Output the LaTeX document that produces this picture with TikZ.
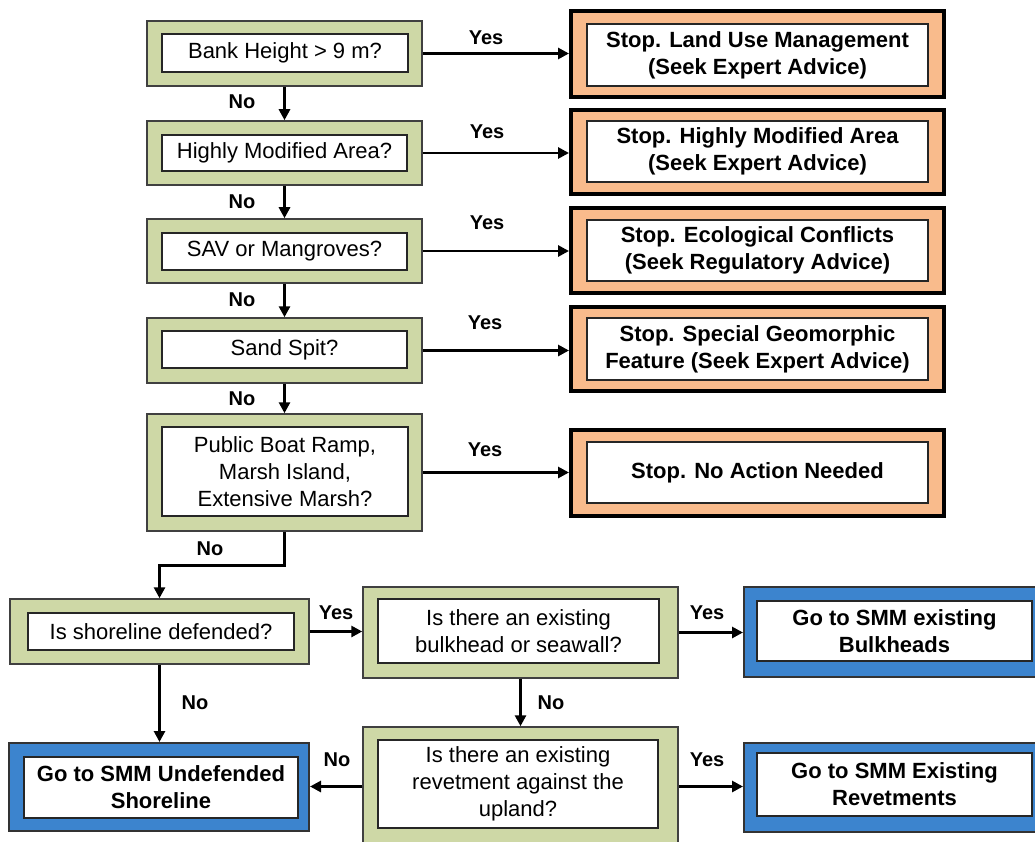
\documentclass[tikz,border=0pt]{standalone}
\usepackage{fontspec}
\setmainfont{Liberation Sans}
\usetikzlibrary{arrows.meta}
\definecolor{gfill}{RGB}{206,216,166}
\definecolor{ofill}{RGB}{249,187,140}
\definecolor{bfill}{RGB}{60,132,206}
\begin{document}
\begin{tikzpicture}[x=1pt,y=-1pt,
  gout/.style={draw=black!75, line width=1.5pt, fill=gfill, inner sep=0pt},
  oout/.style={draw=black, line width=4pt, fill=ofill, inner sep=0pt},
  bout/.style={draw=black!80, line width=2pt, fill=bfill, inner sep=0pt},
  gin/.style={draw=black!85, line width=1.8pt, fill=white, inner sep=0pt, align=center,
    font=\fontsize{22}{27}\selectfont},
  bin/.style={draw=black!85, line width=1.8pt, fill=white, inner sep=0pt, align=center,
    font=\bfseries\fontsize{22}{27}\selectfont},
  arr/.style={line width=2.8pt, -{Triangle[length=11pt,width=11pt]}},
  lab/.style={font=\bfseries\fontsize{20}{24}\selectfont, inner sep=0pt}
]
\useasboundingbox (0,0) rectangle (1035,842);
\clip (0,0) rectangle (1035,842);

% green question boxes
\node[gout, minimum width=275pt, minimum height=65pt] (g1o) at (284.5,53.5) {};
\node[gin, minimum width=246pt, minimum height=38pt] (g1) at (285,53) {Bank Height > 9 m?};
\node[gout, minimum width=275pt, minimum height=64pt] (g2o) at (284.5,153) {};
\node[gin, minimum width=245pt, minimum height=36pt] (g2) at (284.5,153) {Highly Modified Area?};
\node[gout, minimum width=275pt, minimum height=64pt] (g3o) at (284.5,251) {};
\node[gin, minimum width=245pt, minimum height=37pt] (g3) at (284.5,251.5) {SAV or Mangroves?};
\node[gout, minimum width=275pt, minimum height=65pt] (g4o) at (284.5,350.5) {};
\node[gin, minimum width=245pt, minimum height=37pt] (g4) at (284.5,349.5) {Sand Spit?};
\node[gout, minimum width=275pt, minimum height=117pt] (g5o) at (284.5,472.5) {};
\node[gin, minimum width=246pt, minimum height=89pt] (g5) at (285,471.5) {Public Boat Ramp,\\Marsh Island,\\Extensive Marsh?};

% orange stop boxes
\node[oout, minimum width=373pt, minimum height=86pt] (o1o) at (757.5,54) {};
\node[bin, minimum width=341pt, minimum height=62pt] (o1) at (757.5,55) {Stop. Land Use Management\\(Seek Expert Advice)};
\node[oout, minimum width=373pt, minimum height=84pt] (o2o) at (757.5,152) {};
\node[bin, minimum width=341pt, minimum height=61pt] (o2) at (757.5,151.5) {Stop. Highly Modified Area\\(Seek Expert Advice)};
\node[oout, minimum width=373pt, minimum height=85pt] (o3o) at (757.5,250.5) {};
\node[bin, minimum width=341pt, minimum height=61pt] (o3) at (757.5,250.5) {Stop. Ecological Conflicts\\(Seek Regulatory Advice)};
\node[oout, minimum width=373pt, minimum height=84pt] (o4o) at (757.5,349) {};
\node[bin, minimum width=341pt, minimum height=62pt] (o4) at (757.5,349) {Stop. Special Geomorphic\\Feature (Seek Expert Advice)};
\node[oout, minimum width=373pt, minimum height=86pt] (o5o) at (757.5,473) {};
\node[bin, minimum width=341pt, minimum height=61pt] (o5) at (757.5,472.5) {Stop. No Action Needed};

% lower part
\node[gout, minimum width=299pt, minimum height=65pt] (So) at (159.5,631.5) {};
\node[gin, minimum width=266pt, minimum height=37pt] (S) at (161,631.5) {Is shoreline defended?};
\node[gout, minimum width=315pt, minimum height=91pt] (Bo) at (520.5,632.5) {};
\node[gin, minimum width=281pt, minimum height=64pt] (B) at (518.5,631) {Is there an existing\\bulkhead or seawall?};
\node[bout, minimum width=301pt, minimum height=90pt] (BBo) at (894.5,632) {};
\node[bin, minimum width=275pt, minimum height=60pt] (BB) at (894.5,631) {Go to SMM existing\\Bulkheads};
\node[gout, minimum width=315pt, minimum height=119pt] (Ro) at (520.5,786.5) {};
\node[gin, minimum width=280pt, minimum height=88pt] (R) at (518,784) {Is there an existing\\revetment against the\\upland?};
\node[bout, minimum width=301pt, minimum height=89pt] (BRo) at (894.5,787.5) {};
\node[bin, minimum width=275pt, minimum height=63pt] (BR) at (894.5,784.5) {Go to SMM Existing\\Revetments};
\node[bout, minimum width=300pt, minimum height=88pt] (Uo) at (159,787) {};
\node[bin, minimum width=274pt, minimum height=61pt] (U) at (161,787.5) {Go to SMM Undefended\\Shoreline};

% Yes connectors
\draw[arr] (g1o.east) -- (g1o.east -| o1o.west);
\draw[arr] (g2o.east) -- (g2o.east -| o2o.west);
\draw[arr] (g3o.east) -- (g3o.east -| o3o.west);
\draw[arr] (g4o.east) -- (g4o.east -| o4o.west);
\draw[arr] (g5o.east) -- (g5o.east -| o5o.west);
\draw[arr] (So.east) -- (So.east -| Bo.west);
\draw[arr] (Bo.east) -- (Bo.east -| BBo.west);
\draw[arr] (Ro.east) -- (Ro.east -| BRo.west);

% No connectors
\draw[arr] (g1o.south) -- (g2o.north);
\draw[arr] (g2o.south) -- (g3o.north);
\draw[arr] (g3o.south) -- (g4o.north);
\draw[arr] (g4o.south) -- (g5o.north);
\draw[arr] (g5o.south) -- ++(0,34) -| (So.north);
\draw[arr] (So.south) -- (So.south |- Uo.north);
\draw[arr] (Bo.south) -- (Bo.south |- Ro.north);
\draw[arr] (Ro.west) -- (Ro.west -| Uo.east);

% labels
\node[lab] (y1) at (486,38) {Yes};
\node[lab] (y2) at (487,132) {Yes};
\node[lab] (y3) at (487,223) {Yes};
\node[lab] (y4) at (485,323) {Yes};
\node[lab] (y5) at (485,450) {Yes};
\node[lab] (y6) at (336,613) {Yes};
\node[lab] (y7) at (707,613) {Yes};
\node[lab] (y8) at (707,760) {Yes};
\node[lab] (n1) at (242,102) {No};
\node[lab] (n2) at (242,202) {No};
\node[lab] (n3) at (242,300) {No};
\node[lab] (n4) at (242,399) {No};
\node[lab] (n5) at (210,549) {No};
\node[lab] (n6) at (195,703) {No};
\node[lab] (n7) at (551,703) {No};
\node[lab] (n8) at (337,760) {No};
\end{tikzpicture}
\end{document}
